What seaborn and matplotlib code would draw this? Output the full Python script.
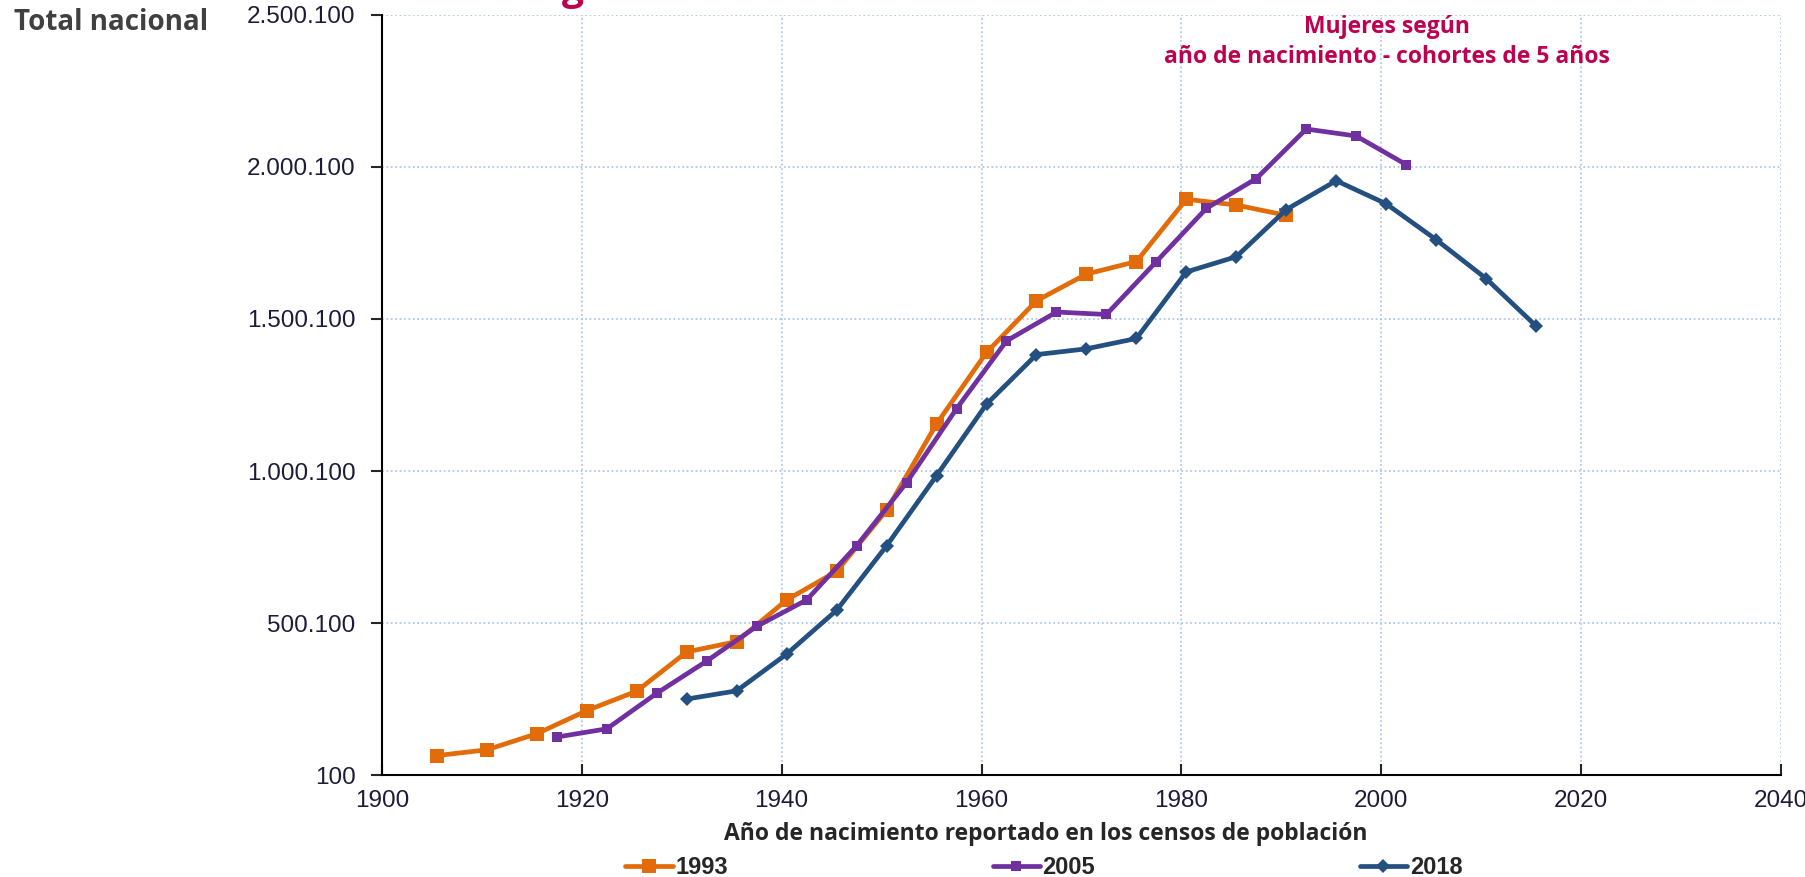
import matplotlib
matplotlib.use("Agg")
import matplotlib.pyplot as plt
import matplotlib.ticker as mticker
import pandas as pd
import seaborn as sns

# cohort mid-years (birth year) and women per cohort, by census
years_1993 = [1905.5, 1910.5, 1915.5, 1920.5, 1925.5, 1930.5, 1935.5, 1940.5, 1945.5,
              1950.5, 1955.5, 1960.5, 1965.5, 1970.5, 1975.5, 1980.5, 1985.5, 1990.5]
women_1993 = [64000, 83000, 136000, 212000, 276000, 405000, 439000, 576000, 670000,
              871000, 1155000, 1390000, 1560000, 1648000, 1689000, 1894000, 1875000, 1841000]

years_2005 = [1917.5, 1922.5, 1927.5, 1932.5, 1937.5, 1942.5, 1947.5, 1952.5, 1957.5,
              1962.5, 1967.5, 1972.5, 1977.5, 1982.5, 1987.5, 1992.5, 1997.5, 2002.5]
women_2005 = [125000, 152000, 269000, 375000, 489000, 576000, 754000, 962000, 1205000,
              1428000, 1523000, 1515000, 1689000, 1864000, 1962000, 2125000, 2102000, 2008000]

years_2018 = [1930.5, 1935.5, 1940.5, 1945.5, 1950.5, 1955.5, 1960.5, 1965.5, 1970.5,
              1975.5, 1980.5, 1985.5, 1990.5, 1995.5, 2000.5, 2005.5, 2010.5, 2015.5]
women_2018 = [250000, 277000, 398000, 542000, 754000, 985000, 1220000, 1383000, 1402000,
              1436000, 1655000, 1705000, 1860000, 1955000, 1879000, 1761000, 1633000, 1477000]

censos = ["1993", "2005", "2018"]
colors = {"1993": "#E36C0A", "2005": "#7030A0", "2018": "#244F81"}
markers = {"1993": "s", "2005": "s", "2018": "D"}
msizes = {"1993": 10, "2005": 6.5, "2018": 7}

y_ticks = [100, 500100, 1000100, 1500100, 2000100, 2500100]
x_ticks = [1900, 1920, 1940, 1960, 1980, 2000, 2020, 2040]

df = pd.concat([
    pd.DataFrame({"anio": years_1993, "mujeres": women_1993, "censo": "1993"}),
    pd.DataFrame({"anio": years_2005, "mujeres": women_2005, "censo": "2005"}),
    pd.DataFrame({"anio": years_2018, "mujeres": women_2018, "censo": "2018"}),
])

sns.set_style("white")
plt.rcParams["font.family"] = ["Liberation Sans", "DejaVu Sans"]

fig = plt.figure(figsize=(18.06, 8.77), dpi=100)
ax = fig.add_axes([0.2115, 0.1163, 0.7746, 0.8666])

for c in censos:
    sns.lineplot(data=df[df["censo"] == c], x="anio", y="mujeres", ax=ax,
                 color=colors[c], marker=markers[c], markersize=msizes[c],
                 markeredgewidth=0, linewidth=3.4, label=c)

ax.set_xlim(1900, 2040)
ax.set_ylim(100, 2500100)
ax.set_xticks(x_ticks)
ax.set_yticks(y_ticks)
ax.yaxis.set_major_formatter(mticker.FuncFormatter(lambda v, p: f"{int(v):,}".replace(",", ".")))
ax.grid(True, color="#A7C1E6", linestyle=":", linewidth=1.2)
for s in ["top", "right"]:
    ax.spines[s].set_visible(False)
for s in ["left", "bottom"]:
    ax.spines[s].set_color("black")
    ax.spines[s].set_linewidth(1.5)
ax.tick_params(axis="y", direction="out", length=8, width=1.5, pad=11,
               labelsize=17.5, labelcolor="#1C1C38", left=True)
ax.tick_params(axis="x", direction="in", length=8, width=1.5, pad=11,
               labelsize=17.5, labelcolor="#1C1C38", bottom=True)

ax.set_ylabel("")
ax.set_xlabel("Año de nacimiento reportado en los censos de población",
              fontsize=16.5, fontweight="bold", family=["Open Sans", "DejaVu Sans"])
ax.xaxis.set_label_coords((1046 - 382) / 1399, -0.062)

ax.get_legend().remove()
handles, labels = ax.get_legend_handles_labels()
fig.legend(handles, labels, loc="center", bbox_to_anchor=(0.578, 0.011), ncol=3,
           frameon=False, handlelength=2.0, handletextpad=0.12, columnspacing=11.2,
           prop={"weight": "bold", "size": 17})

fig.text(0.008, 0.974, "Total nacional", fontsize=20, fontweight="bold",
         color="#404040", family=["Open Sans", "DejaVu Sans"], va="center")
fig.text(0.768, 0.952, "Mujeres según\naño de nacimiento - cohortes de 5 años",
         fontsize=16.5, fontweight="bold", color="#BE0050", ha="center", va="center",
         family=["Open Sans", "DejaVu Sans"], linespacing=1.3)
# descender of the cut-off title above the frame
fig.text(0.311, 1.0, "g", fontsize=28, fontweight="bold", color="#BE0050",
         family=["Open Sans", "DejaVu Sans"], va="baseline")

fig.savefig("out.png", dpi=100)
